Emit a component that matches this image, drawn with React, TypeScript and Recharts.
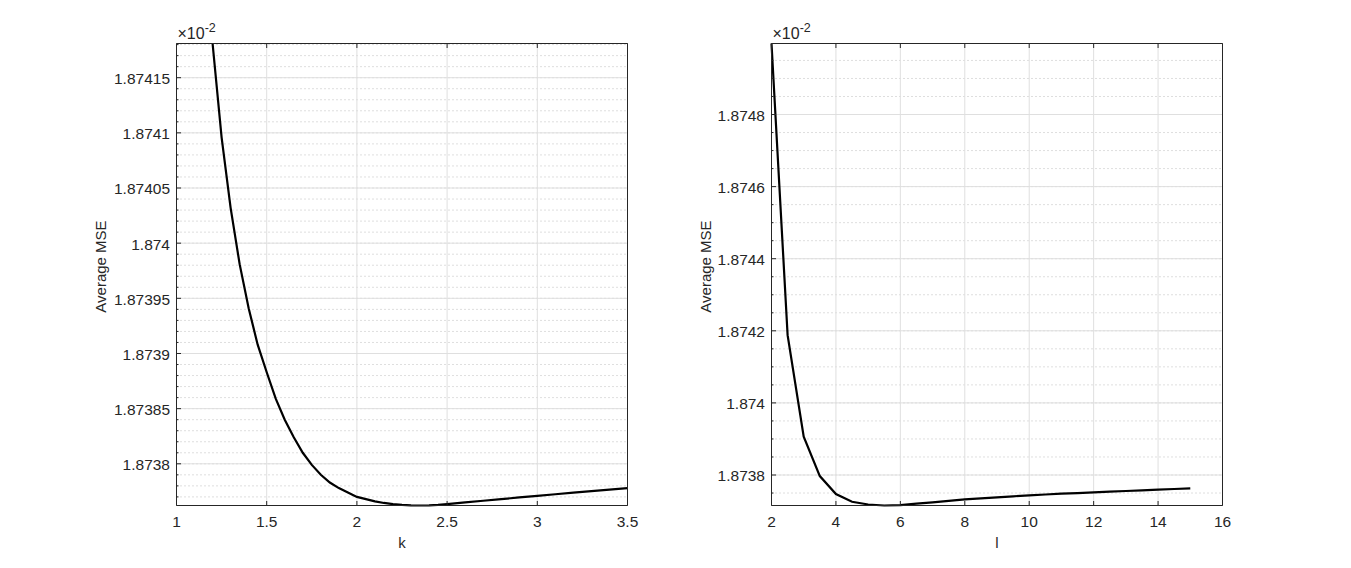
import React from 'react';
import { LineChart, Line, XAxis, YAxis, CartesianGrid } from 'recharts';

// ---------- data (values in units of 1e-2, as shown on the axes) ----------
const leftK = [
  1.2, 1.25, 1.3, 1.35, 1.4, 1.45, 1.5, 1.55, 1.6, 1.65, 1.7, 1.75, 1.8, 1.85, 1.9, 1.95,
  2.0, 2.05, 2.1, 2.15, 2.2, 2.25, 2.3, 2.35, 2.4, 2.45, 2.5, 2.6, 2.7, 2.8, 2.9, 3.0,
  3.1, 3.2, 3.3, 3.4, 3.5,
];
const leftMSE = [
  1.874181, 1.874096, 1.874032, 1.873981, 1.873941, 1.873908, 1.873883, 1.873859,
  1.87384, 1.873824, 1.87381, 1.873799, 1.87379, 1.873783, 1.873778, 1.873774,
  1.87377, 1.873768, 1.873766, 1.8737645, 1.8737635, 1.8737628, 1.8737623, 1.8737622,
  1.8737624, 1.8737628, 1.8737635, 1.873765, 1.8737665, 1.873768, 1.8737695, 1.873771,
  1.8737724, 1.8737738, 1.8737752, 1.8737766, 1.873778,
];

const rightL = [
  2, 2.5, 3, 3.5, 4, 4.5, 5, 5.5, 6, 6.5, 7, 7.5, 8, 8.5, 9, 9.5, 10, 10.5, 11, 11.5,
  12, 12.5, 13, 13.5, 14, 14.5, 15,
];
const rightMSE = [
  1.874997, 1.874188, 1.873906, 1.873797, 1.8737473, 1.8737259, 1.8737181, 1.8737154,
  1.8737162, 1.8737204, 1.8737243, 1.8737284, 1.8737326, 1.8737353, 1.8737381, 1.8737409,
  1.8737437, 1.8737459, 1.8737481, 1.87375, 1.873752, 1.8737539, 1.8737556, 1.8737573,
  1.8737592, 1.8737612, 1.8737631,
];

const leftXTicks = [1, 1.5, 2, 2.5, 3, 3.5];
const leftYTicks = [1.8738, 1.87385, 1.8739, 1.87395, 1.874, 1.87405, 1.8741, 1.87415];
const rightXTicks = [2, 4, 6, 8, 10, 12, 14, 16];
const rightYTicks = [1.8738, 1.874, 1.8742, 1.8744, 1.8746, 1.8748];

const leftXDomain = [1, 3.5];
const leftYDomain = [1.8737622, 1.874181];
const rightXDomain = [2, 16];
const rightYDomain = [1.8737154, 1.874997];

// ---------- style ----------
const FONT = '"Liberation Sans", Arial, Helvetica, sans-serif';
const AXIS = '#262626';
const GRID = '#dfdfdf';
const MINOR = '#bdbdbd';
const TICK_FS = 15.5;
const MAJOR_LEN = 4.5;
const MINOR_LEN = 2;

function minorTicks(lo: number, hi: number, step: number): number[] {
  const a = Math.ceil(lo / step - 1e-6);
  const b = Math.floor(hi / step + 1e-6);
  const out: number[] = [];
  for (let i = a; i <= b; i++) out.push(Number((i * step).toFixed(8)));
  return out;
}

const isMajor = (v: number, majors: number[]) => majors.some((m) => Math.abs(m - v) < 1e-9);
const fmt = (v: number) => String(parseFloat(v.toFixed(6)));

type PanelProps = {
  width: number;
  margin: { top: number; right: number; bottom: number; left: number };
  xs: number[];
  ys: number[];
  xDomain: number[];
  yDomain: number[];
  xTicks: number[];
  yTicks: number[];
  yMinorStep: number;
  xLabel: string;
  yLabelOffset: number;
};

function Panel(p: PanelProps) {
  const data = p.xs.map((x, i) => ({ x, mse: p.ys[i] }));
  const yMinor = minorTicks(p.yDomain[0], p.yDomain[1], p.yMinorStep);

  const leftTick = (props: any) => {
    const { x, y, payload } = props;
    const major = isMajor(payload.value, p.yTicks);
    return (
      <g>
        <line x1={x} x2={x + (major ? MAJOR_LEN : MINOR_LEN)} y1={y} y2={y} stroke={AXIS} strokeWidth={1} />
        {major && (
          <text x={x - 6.5} y={y + 6.4} textAnchor="end" fontSize={TICK_FS} fill={AXIS} fontFamily={FONT}>
            {fmt(payload.value)}
          </text>
        )}
      </g>
    );
  };
  const rightTick = (props: any) => {
    const { x, y, payload } = props;
    const major = isMajor(payload.value, p.yTicks);
    return (
      <line x1={x - (major ? MAJOR_LEN : MINOR_LEN)} x2={x} y1={y} y2={y} stroke={AXIS} strokeWidth={1} />
    );
  };
  const bottomTick = (props: any) => {
    const { x, y, payload } = props;
    return (
      <g>
        <line x1={x} x2={x} y1={y} y2={y - MAJOR_LEN} stroke={AXIS} strokeWidth={1} />
        <text x={x} y={y + 21.3} textAnchor="middle" fontSize={TICK_FS} fill={AXIS} fontFamily={FONT}>
          {fmt(payload.value)}
        </text>
      </g>
    );
  };
  const topTick = (props: any) => {
    const { x, y } = props;
    return <line x1={x} x2={x} y1={y} y2={y + MAJOR_LEN} stroke={AXIS} strokeWidth={1} />;
  };

  const yLabel = (props: any) => {
    const vb = props.viewBox || {};
    const cx = vb.x + vb.width - p.yLabelOffset;
    const cy = vb.y + vb.height / 2 - 8;
    return (
      <text
        x={cx}
        y={cy}
        transform={`rotate(-90, ${cx}, ${cy})`}
        textAnchor="middle"
        dominantBaseline="central"
        fontSize={15}
        fill={AXIS}
        fontFamily={FONT}
      >
        Average MSE
      </text>
    );
  };
  const xLabel = (props: any) => {
    const vb = props.viewBox || {};
    return (
      <text x={vb.x + vb.width / 2} y={vb.y + 42} textAnchor="middle" fontSize={15} fill={AXIS} fontFamily={FONT}>
        {p.xLabel}
      </text>
    );
  };
  const expLabel = (props: any) => {
    const vb = props.viewBox || {};
    const x0 = vb.x + 1;
    const y0 = vb.y + vb.height - 4.2;
    return (
      <text x={x0} y={y0} fontSize={16} fill={AXIS} fontFamily={FONT}>
        ×10
        <tspan dy={-7.5} fontSize={12.5}>-2</tspan>
      </text>
    );
  };

  return (
    <LineChart width={p.width} height={568} data={data} margin={p.margin}>
      <CartesianGrid
        xAxisId="b"
        yAxisId="l"
        vertical={false}
        horizontalValues={yMinor}
        stroke={MINOR}
        strokeDasharray="1 3"
      />
      <CartesianGrid
        xAxisId="b"
        yAxisId="l"
        horizontalValues={p.yTicks}
        verticalValues={p.xTicks}
        stroke={GRID}
      />
      <Line
        xAxisId="b"
        yAxisId="l"
        dataKey="mse"
        type="linear"
        stroke="#000"
        strokeWidth={2.2}
        dot={false}
        activeDot={false}
        isAnimationActive={false}
      />
      <XAxis
        xAxisId="b"
        orientation="bottom"
        dataKey="x"
        type="number"
        domain={p.xDomain}
        ticks={p.xTicks}
        interval={0}
        height={1}
        tickSize={0}
        tickMargin={0}
        tickLine={false}
        axisLine={{ stroke: AXIS }}
        tick={bottomTick}
        label={xLabel}
      />
      <XAxis
        xAxisId="t"
        orientation="top"
        dataKey="x"
        type="number"
        domain={p.xDomain}
        ticks={p.xTicks}
        interval={0}
        height={1}
        tickSize={0}
        tickMargin={0}
        tickLine={false}
        axisLine={{ stroke: AXIS }}
        tick={topTick}
        label={expLabel}
      />
      <YAxis
        yAxisId="l"
        orientation="left"
        type="number"
        domain={p.yDomain}
        ticks={yMinor}
        interval={0}
        width={1}
        tickSize={0}
        tickMargin={0}
        tickLine={false}
        axisLine={{ stroke: AXIS }}
        tick={leftTick}
        label={yLabel}
      />
      <YAxis
        yAxisId="r"
        orientation="right"
        type="number"
        domain={p.yDomain}
        ticks={yMinor}
        interval={0}
        width={1}
        tickSize={0}
        tickMargin={0}
        tickLine={false}
        axisLine={{ stroke: AXIS }}
        tick={rightTick}
      />
    </LineChart>
  );
}

export default function App() {
  return (
    <div style={{ position: 'absolute', left: 0, top: 0, width: 1351, height: 568, background: '#fff' }}>
      <div style={{ position: 'absolute', left: 0, top: 0 }}>
        <Panel
          width={676}
          margin={{ top: 42.5, right: 47.5, bottom: 61.5, left: 175.5 }}
          xs={leftK}
          ys={leftMSE}
          xDomain={leftXDomain}
          yDomain={leftYDomain}
          xTicks={leftXTicks}
          yTicks={leftYTicks}
          yMinorStep={0.00001}
          xLabel="k"
          yLabelOffset={76.5}
        />
      </div>
      <div style={{ position: 'absolute', left: 676, top: 0 }}>
        <Panel
          width={675}
          margin={{ top: 42.5, right: 127.5, bottom: 61.5, left: 94.5 }}
          xs={rightL}
          ys={rightMSE}
          xDomain={rightXDomain}
          yDomain={rightYDomain}
          xTicks={rightXTicks}
          yTicks={rightYTicks}
          yMinorStep={0.00005}
          xLabel="l"
          yLabelOffset={66.5}
        />
      </div>
    </div>
  );
}
